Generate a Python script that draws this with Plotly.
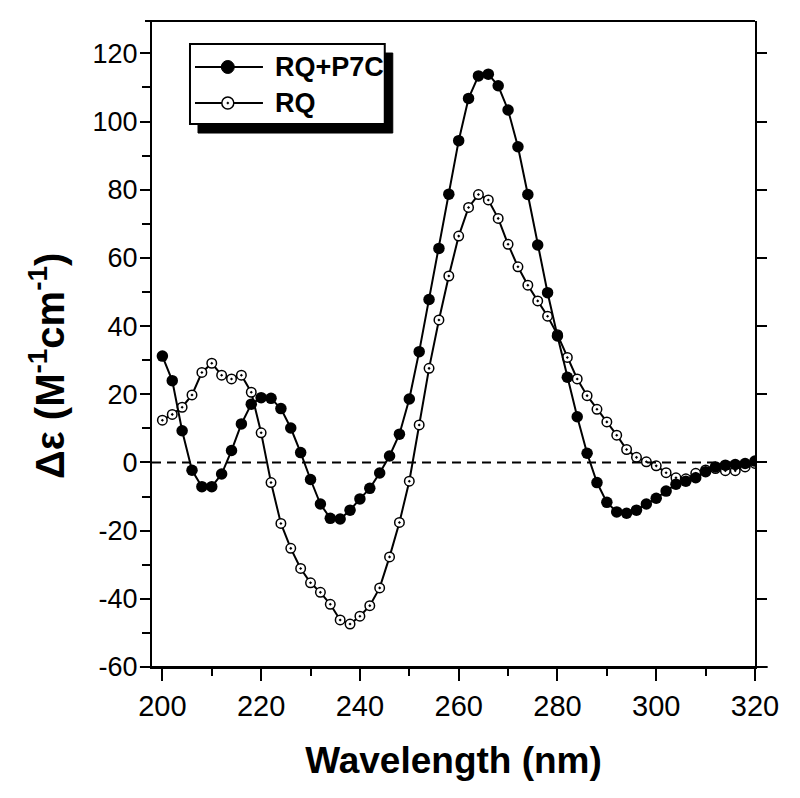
import plotly.graph_objects as go

# ---- data ----
wavelength = [200, 202, 204, 206, 208, 210, 212, 214, 216, 218,
              220, 222, 224, 226, 228, 230, 232, 234, 236, 238,
              240, 242, 244, 246, 248, 250, 252, 254, 256, 258,
              260, 262, 264, 266, 268, 270, 272, 274, 276, 278,
              280, 282, 284, 286, 288, 290, 292, 294, 296, 298,
              300, 302, 304, 306, 308, 310, 312, 314, 316, 318, 320]

rq_p7c = [31.2, 24.0, 9.3, -2.3, -7.1, -7.1, -3.4, 3.5, 11.3, 17.1,
          19.0, 18.8, 15.8, 10.1, 2.9, -5.0, -12.2, -16.4, -16.6, -14.0,
          -10.7, -7.6, -3.1, 1.9, 8.3, 18.6, 32.5, 47.8, 62.8, 78.7,
          94.4, 106.8, 113.4, 113.9, 110.5, 103.4, 92.6, 78.6, 63.8, 49.8,
          37.1, 25.0, 13.4, 2.7, -5.9, -11.7, -14.5, -14.9, -14.0, -12.2,
          -10.5, -8.4, -6.4, -5.5, -4.5, -2.7, -1.3, -0.8, -0.6, -0.3, 0.4]

rq = [12.4, 14.1, 16.2, 19.8, 26.4, 29.1, 25.6, 24.5, 25.6, 20.6,
      8.7, -5.9, -17.9, -25.2, -31.1, -35.3, -38.1, -41.6, -46.2, -47.4,
      -45.1, -42.0, -36.8, -27.7, -17.6, -5.5, 11.0, 27.6, 41.8, 54.7,
      66.4, 74.8, 78.6, 77.0, 71.6, 64.0, 57.4, 52.0, 47.4, 42.9,
      37.5, 30.8, 24.5, 19.6, 15.6, 11.9, 8.0, 3.8, 1.5, 0.2,
      -1.0, -3.0, -4.5, -4.8, -3.2, -2.2, -1.8, -2.4, -2.4, -1.3, -0.3]

series_names = ["RQ+P7C", "RQ"]
x_title = "Wavelength (nm)"
y_title = "Δε (M<sup>-1</sup>cm<sup>-1</sup>)"
x_range = [197.9, 320]
y_range = [-60, 129.5]
y_tickvals = [-60, -40, -20, 0, 20, 40, 60, 80, 100, 120]
y_ticktext = ["-60", "-40", "-20", "0", "20", "40", "60", "80", "100", "120"]
x_tickvals = [200, 220, 240, 260, 280, 300, 320]
x_ticktext = ["200", "220", "240", "260", "280", "300", "320"]

FONT = "Liberation Sans, Arial, Helvetica, sans-serif"

fig = go.Figure()

fig.add_trace(go.Scatter(
    x=wavelength, y=rq, name=series_names[1], mode="lines+markers",
    line=dict(color="black", width=2),
    marker=dict(symbol="circle-dot", size=9.5, color="white",
                line=dict(color="black", width=1.5)),
    showlegend=False))

fig.add_trace(go.Scatter(
    x=wavelength, y=rq_p7c, name=series_names[0], mode="lines+markers",
    line=dict(color="black", width=2),
    marker=dict(symbol="circle", size=11.5, color="black"),
    showlegend=False))

# invisible trace to carry the mirrored right-hand axis
fig.add_trace(go.Scatter(
    x=wavelength, y=rq, yaxis="y2", mode="lines", opacity=0,
    hoverinfo="skip", showlegend=False))

# ---- manual legend (box with drop shadow) ----
L = dict(x0=0.063, x1=0.386, y0=0.8406, y1=0.9644)
shapes = [
    dict(type="line", xref="paper", yref="y", x0=0, x1=1, y0=0, y1=0,
         line=dict(color="black", width=2, dash="9px,6px")),
    dict(type="line", xref="paper", yref="paper", x0=-0.02, x1=1.021, y0=0, y1=0,
         line=dict(color="black", width=2)),
    dict(type="line", xref="paper", yref="paper", x0=-0.0116, x1=1, y0=1, y1=1,
         line=dict(color="black", width=2)),
    dict(type="rect", xref="paper", yref="paper",
         x0=L["x0"] + 0.0133, x1=L["x1"] + 0.0133,
         y0=L["y0"] - 0.014, y1=L["y1"] - 0.014,
         fillcolor="black", line=dict(color="black", width=1), layer="above"),
    dict(type="rect", xref="paper", yref="paper",
         x0=L["x0"], x1=L["x1"], y0=L["y0"], y1=L["y1"],
         fillcolor="white", line=dict(color="black", width=2), layer="above"),
]
legend_rows = [0.9288, 0.873]
line_x0, line_x1, mark_x = 0.0713, 0.184, 0.1257
for yy in legend_rows:
    shapes.append(dict(type="line", xref="paper", yref="paper",
                       x0=line_x0, x1=line_x1, y0=yy, y1=yy,
                       line=dict(color="black", width=2), layer="above"))
shapes.append(dict(type="circle", xref="paper", yref="paper",
                   xsizemode="pixel", ysizemode="pixel",
                   xanchor=mark_x, yanchor=legend_rows[0],
                   x0=-6.5, x1=6.5, y0=-6.5, y1=6.5,
                   fillcolor="black", line=dict(color="black", width=1), layer="above"))
shapes.append(dict(type="circle", xref="paper", yref="paper",
                   xsizemode="pixel", ysizemode="pixel",
                   xanchor=mark_x, yanchor=legend_rows[1],
                   x0=-6, x1=6, y0=-6, y1=6,
                   fillcolor="white", line=dict(color="black", width=1.5), layer="above"))
shapes.append(dict(type="circle", xref="paper", yref="paper",
                   xsizemode="pixel", ysizemode="pixel",
                   xanchor=mark_x, yanchor=legend_rows[1],
                   x0=-1, x1=1, y0=-1, y1=1,
                   fillcolor="black", line=dict(color="black", width=0.5), layer="above"))

annotations = []
for name, yy in zip(series_names, legend_rows):
    annotations.append(dict(xref="paper", yref="paper", x=0.2006, y=yy,
                            xanchor="left", yanchor="middle", showarrow=False,
                            text=name,
                            font=dict(family=FONT, size=27, color="black", weight="bold")))
# y-axis title (sits a little below the plot's vertical centre, as in the reference)
annotations.append(dict(xref="paper", yref="paper", x=-0.174, y=0.466,
                        xanchor="center", yanchor="middle", showarrow=False,
                        textangle=-90, text=y_title,
                        font=dict(family=FONT, size=40, color="black", weight="bold")))

# the page body adds an 8px offset, so margins compensate for it
fig.update_layout(
    width=800, height=798,
    margin=dict(l=144, r=53, t=13, b=139, autoexpand=False),
    paper_bgcolor="white", plot_bgcolor="white",
    showlegend=False,
    shapes=shapes, annotations=annotations,
    xaxis=dict(
        range=x_range, showgrid=False, zeroline=False, automargin=False,
        showline=True, linecolor="black", linewidth=2, mirror=False,
        ticks="outside", ticklen=12, tickwidth=2, tickcolor="black",
        tickmode="array", tickvals=x_tickvals, ticktext=x_ticktext,
        minor=dict(ticks="outside", ticklen=7, tickwidth=2, tickcolor="black", dtick=10, tick0=200),
        tickfont=dict(family=FONT, size=29, color="black"),
        title=dict(text=x_title, standoff=26,
                   font=dict(family=FONT, size=37, color="black", weight="bold")),
    ),
    yaxis=dict(
        range=y_range, showgrid=False, zeroline=False, automargin=False,
        showline=True, linecolor="black", linewidth=2,
        ticks="outside", ticklen=10, tickwidth=2, tickcolor="black",
        tickmode="array", tickvals=y_tickvals, ticktext=y_ticktext,
        ticklabelstandoff=-3,
        minor=dict(ticks="outside", ticklen=8, tickwidth=2, tickcolor="black", dtick=10, tick0=0),
        tickfont=dict(family=FONT, size=27, color="black"),
    ),
    yaxis2=dict(
        range=y_range, overlaying="y", side="right", showgrid=False, zeroline=False,
        automargin=False,
        showline=True, linecolor="black", linewidth=2,
        ticks="outside", ticklen=10, tickwidth=2, tickcolor="black",
        tickmode="array", tickvals=y_tickvals, showticklabels=False,
    ),
)

fig.write_html("out.html")
